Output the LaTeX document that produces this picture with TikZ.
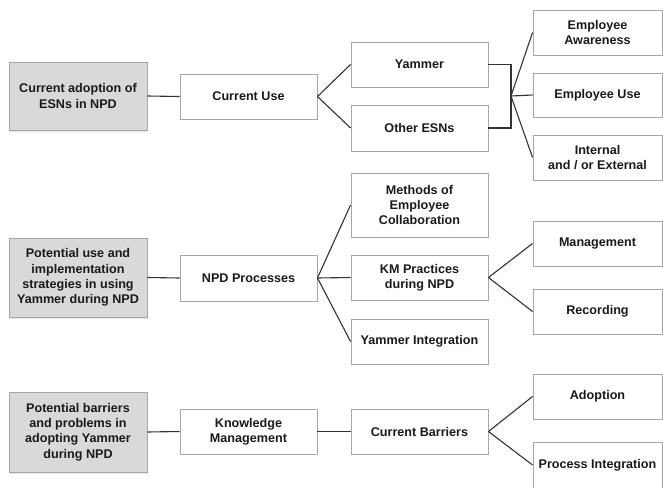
\documentclass[tikz,border=0pt]{standalone}
\usepackage{fontspec}
\setmainfont{Liberation Sans}
\usetikzlibrary{shadows}
\definecolor{boxline}{HTML}{A6A6A6}
\definecolor{boxfill}{HTML}{D9D9D9}
\definecolor{linkcol}{HTML}{333333}
\definecolor{txtcol}{HTML}{1A1A1A}

\begin{document}
\begin{tikzpicture}[x=1pt,y=-1pt,
	box/.style={draw=boxline, line width=0.9pt, fill=white, align=center, inner sep=2pt,
		text=txtcol, font=\fontsize{12.6}{15.3}\selectfont\bfseries},
	mainbox/.style={box, fill=boxfill, minimum width=138pt,
		drop shadow={opacity=0.18, shadow xshift=1pt, shadow yshift=-1.5pt}},
	midbox/.style={box, minimum width=137pt, minimum height=45pt},
	endbox/.style={box, minimum width=129pt, minimum height=45pt},
	link/.style={draw=linkcol, line width=1.1pt}]
	\useasboundingbox (0,0) rectangle (663,487);
	
	% First row: current adoption
	\node[mainbox, minimum height=68pt] (adopt) at (78,96) {Current adoption of\\ESNs in NPD};
	\node[midbox] (curuse) at (248.5,96.5) {Current Use};
	\node[midbox] (yammer) at (419.5,64.5) {Yammer};
	\node[midbox, minimum height=46pt] (otheresn) at (419.5,128) {Other ESNs};
	\node[endbox] (aware) at (597.5,32.5) {Employee\\Awareness};
	\node[endbox, minimum height=44pt] (empuse) at (597.5,95) {Employee Use};
	\node[endbox] (intext) at (597.5,157.5) {Internal\\and / or External};
	\coordinate (hub) at (511,96);
	
	\draw[link] (adopt.east) -- (curuse.west);
	\draw[link] (curuse.east) -- (yammer.west);
	\draw[link] (curuse.east) -- (otheresn.west);
	\draw[link] (yammer.east) -| (hub) |- (otheresn.east);
	\draw[link] (hub) -- (aware.west);
	\draw[link] (hub) -- (empuse.west);
	\draw[link] (hub) -- (intext.west);
	
	% Second row: potential use
	\node[mainbox, minimum height=79pt] (potuse) at (78,277.5) {Potential use and\\implementation\\strategies in using\\Yammer during NPD};
	\node[midbox, minimum height=46pt] (npdproc) at (248.5,278) {NPD Processes};
	\node[midbox, minimum height=64pt] (methods) at (419.5,205) {Methods of\\Employee\\Collaboration};
	\node[midbox] (kmprac) at (419.5,277.5) {KM Practices\\during NPD};
	\node[midbox] (yamint) at (419.5,341.5) {Yammer Integration};
	\node[endbox] (manage) at (597.5,243.5) {Management};
	\node[endbox] (record) at (597.5,311.5) {Recording};
	
	\draw[link] (potuse.east) -- (npdproc.west);
	\draw[link] (npdproc.east) -- (methods.west);
	\draw[link] (npdproc.east) -- (kmprac.west);
	\draw[link] (npdproc.east) -- (yamint.west);
	\draw[link] (kmprac.east) -- (manage.west);
	\draw[link] (kmprac.east) -- (record.west);
	
	% Third row: potential barriers
	\node[mainbox, minimum height=80pt] (barrier) at (78,432) {Potential barriers\\and problems in\\adopting Yammer\\during NPD};
	\node[midbox] (knowman) at (248.5,431.5) {Knowledge\\Management};
	\node[midbox] (curbarr) at (419.5,431.5) {Current Barriers};
	\node[endbox] (adoption) at (597.5,396.5) {Adoption};
	\node[endbox, minimum height=46pt] (procint) at (597.5,465) {Process Integration};
	
	\draw[link] (barrier.east) -- (knowman.west);
	\draw[link] (knowman.east) -- (curbarr.west);
	\draw[link] (curbarr.east) -- (adoption.west);
	\draw[link] (curbarr.east) -- (procint.west);
	
\end{tikzpicture}
\end{document}
